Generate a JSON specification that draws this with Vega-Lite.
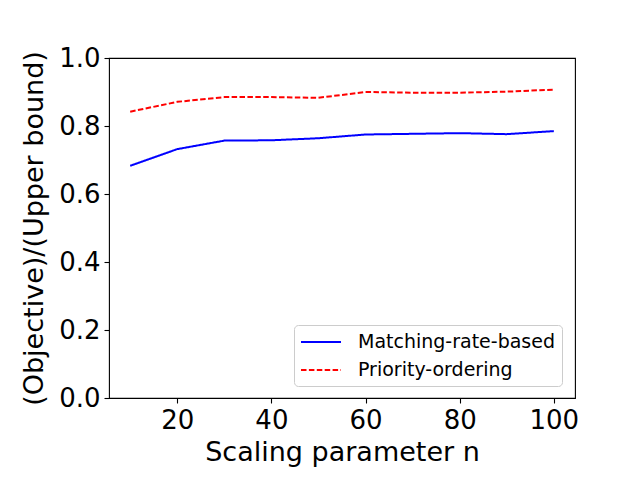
{
  "$schema": "https://vega.github.io/schema/vega-lite/v6.json",
  "width": 466,
  "height": 340,
  "autosize": {"type": "none"},
  "padding": {"left": 109, "top": 58, "right": 65, "bottom": 82},
  "background": "white",
  "data": {
    "values": [
      {"n": 10, "ratio": 0.683, "method": "Matching-rate-based"},
      {"n": 20, "ratio": 0.732, "method": "Matching-rate-based"},
      {"n": 30, "ratio": 0.757, "method": "Matching-rate-based"},
      {"n": 40, "ratio": 0.758, "method": "Matching-rate-based"},
      {"n": 50, "ratio": 0.764, "method": "Matching-rate-based"},
      {"n": 60, "ratio": 0.775, "method": "Matching-rate-based"},
      {"n": 70, "ratio": 0.777, "method": "Matching-rate-based"},
      {"n": 80, "ratio": 0.779, "method": "Matching-rate-based"},
      {"n": 90, "ratio": 0.776, "method": "Matching-rate-based"},
      {"n": 100, "ratio": 0.785, "method": "Matching-rate-based"},
      {"n": 10, "ratio": 0.842, "method": "Priority-ordering"},
      {"n": 20, "ratio": 0.871, "method": "Priority-ordering"},
      {"n": 30, "ratio": 0.885, "method": "Priority-ordering"},
      {"n": 40, "ratio": 0.885, "method": "Priority-ordering"},
      {"n": 50, "ratio": 0.883, "method": "Priority-ordering"},
      {"n": 60, "ratio": 0.9, "method": "Priority-ordering"},
      {"n": 70, "ratio": 0.898, "method": "Priority-ordering"},
      {"n": 80, "ratio": 0.898, "method": "Priority-ordering"},
      {"n": 90, "ratio": 0.901, "method": "Priority-ordering"},
      {"n": 100, "ratio": 0.907, "method": "Priority-ordering"}
    ]
  },
  "mark": {"type": "line", "strokeWidth": 2},
  "encoding": {
    "x": {
      "field": "n",
      "type": "quantitative",
      "title": "Scaling parameter n",
      "scale": {"domain": [5.5, 104.5], "nice": false, "zero": false},
      "axis": {"values": [20, 40, 60, 80, 100], "titlePadding": 6}
    },
    "y": {
      "field": "ratio",
      "type": "quantitative",
      "title": "(Objective)/(Upper bound)",
      "scale": {"domain": [0, 1], "nice": false},
      "axis": {"values": [0, 0.2, 0.4, 0.6, 0.8, 1.0], "format": ".1f", "titlePadding": 10}
    },
    "color": {
      "field": "method",
      "type": "nominal",
      "title": null,
      "scale": {"domain": ["Matching-rate-based", "Priority-ordering"], "range": ["#0000ff", "#ff0000"]}
    },
    "strokeDash": {
      "field": "method",
      "type": "nominal",
      "title": null,
      "scale": {"domain": ["Matching-rate-based", "Priority-ordering"], "range": [[1, 0], [5.5, 2.4]]}
    }
  },
  "config": {
    "font": "DejaVu Sans",
    "view": {"stroke": "black", "strokeWidth": 1.1},
    "axis": {
      "grid": false,
      "domain": false,
      "tickColor": "black",
      "tickWidth": 1.1,
      "tickSize": 5,
      "labelFont": "DejaVu Sans",
      "labelFontSize": 26,
      "labelColor": "black",
      "labelPadding": 4,
      "titleFont": "DejaVu Sans",
      "titleFontSize": 27,
      "titleFontWeight": "normal",
      "titleColor": "black"
    },
    "legend": {
      "orient": "none",
      "legendX": 185,
      "legendY": 267,
      "padding": 6,
      "fillColor": "rgba(255,255,255,0.8)",
      "strokeColor": "#cccccc",
      "cornerRadius": 4,
      "symbolType": "M-1,0H3",
      "symbolSize": 400,
      "symbolStrokeWidth": 2,
      "labelFont": "DejaVu Sans",
      "labelFontSize": 19,
      "labelColor": "black",
      "labelOffset": 36,
      "rowPadding": 7,
      "labelLimit": 400
    }
  }
}
